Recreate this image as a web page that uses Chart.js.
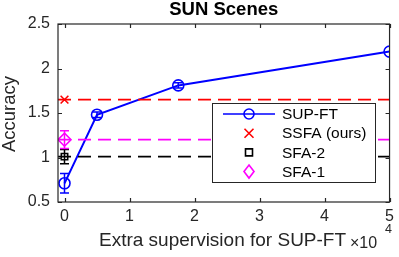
<!DOCTYPE html>
<html><head><meta charset="utf-8">
<script src="https://cdn.jsdelivr.net/npm/chart.js@4"></script>
<style>html,body{margin:0;padding:0;background:#fff}#w{width:399px;height:257px}</style>
</head><body><div id="w"><canvas id="c" width="399" height="257"></canvas></div>
<script>
const supX = [0, 0.5, 1.75, 5];
const supY = [0.71, 1.48, 1.81, 2.19];
const supErr = [0.11, 0.03, 0.03, 0.0];
const ssfaVal = 1.65, ssfaErr = 0.0;
const sfa2Val = 1.01, sfa2Err = 0.08;
const sfa1Val = 1.20, sfa1Err = 0.1;
const xTicks = [0, 1, 2, 3, 4, 5];
const yTicks = [0.5, 1, 1.5, 2, 2.5];
const xMin = -0.1, xMax = 5, yMin = 0.5, yMax = 2.5;
const FONT = 'Liberation Sans, Arial, sans-serif';

const hline = (v) => [{x: xMin, y: v}, {x: xMax, y: v}];

const errs = [
  {xs: supX, ys: supY, es: supErr, color: '#0000ff'},
  {xs: [0], ys: [ssfaVal], es: [ssfaErr], color: '#ff0000'},
  {xs: [0], ys: [sfa2Val], es: [sfa2Err], color: '#000000'},
  {xs: [0], ys: [sfa1Val], es: [sfa1Err], color: '#ff00ff'}
];

const custom = {
  id: 'custom',
  beforeDatasetsDraw(chart) {
    const ctx = chart.ctx, xs = chart.scales.x, ys = chart.scales.y;
    ctx.save();
    ctx.lineWidth = 1.5;
    errs.forEach(s => {
      ctx.strokeStyle = s.color;
      s.xs.forEach((xv, i) => {
        if (!s.es[i]) return;
        const px = xs.getPixelForValue(xv);
        const t = ys.getPixelForValue(s.ys[i] + s.es[i]);
        const b = ys.getPixelForValue(s.ys[i] - s.es[i]);
        ctx.beginPath();
        ctx.moveTo(px, t); ctx.lineTo(px, b);
        ctx.moveTo(px - 4.5, t); ctx.lineTo(px + 4.5, t);
        ctx.moveTo(px - 4.5, b); ctx.lineTo(px + 4.5, b);
        ctx.stroke();
      });
    });
    ctx.restore();
  },
  afterDraw(chart) {
    const ctx = chart.ctx, a = chart.chartArea, xs = chart.scales.x, ys = chart.scales.y;
    ctx.save();
    // box
    ctx.strokeStyle = '#262626';
    ctx.lineWidth = 1.2;
    ctx.strokeRect(a.left, a.top, a.right - a.left, a.bottom - a.top);
    // inward ticks
    ctx.beginPath();
    xTicks.forEach(v => {
      const p = Math.round(xs.getPixelForValue(v)) + 0.5;
      ctx.moveTo(p, a.bottom); ctx.lineTo(p, a.bottom - 4);
      ctx.moveTo(p, a.top); ctx.lineTo(p, a.top + 4);
    });
    yTicks.forEach(v => {
      const p = Math.round(ys.getPixelForValue(v)) + 0.5;
      ctx.moveTo(a.left, p); ctx.lineTo(a.left + 4, p);
      ctx.moveTo(a.right, p); ctx.lineTo(a.right - 4, p);
    });
    ctx.stroke();
    // title
    ctx.fillStyle = '#000';
    ctx.font = 'bold 18.5px ' + FONT;
    ctx.textAlign = 'center'; ctx.textBaseline = 'alphabetic';
    ctx.fillText('SUN Scenes', (a.left + a.right) / 2, 15);
    // y label
    ctx.fillStyle = '#262626';
    ctx.font = '18.5px ' + FONT;
    ctx.textBaseline = 'middle';
    ctx.save();
    ctx.translate(10, 114);
    ctx.rotate(-Math.PI / 2);
    ctx.fillText('Accuracy', 0, 0);
    ctx.restore();
    // x label
    ctx.font = '19px ' + FONT;
    ctx.textAlign = 'left'; ctx.textBaseline = 'alphabetic';
    ctx.fillText('Extra supervision for SUP-FT', 99, 246);
    ctx.font = '16px ' + FONT;
    ctx.fillText('\u00d710', 350, 248);
    ctx.font = '12.5px ' + FONT;
    ctx.fillText('4', 385, 233);
    // legend
    const lx = 212, ly = 103, lw = 163, lh = 79;
    ctx.fillStyle = '#fff';
    ctx.fillRect(lx, ly, lw, lh);
    ctx.strokeStyle = '#262626';
    ctx.lineWidth = 1;
    ctx.strokeRect(lx + 0.5, ly + 0.5, lw, lh);
    const rows = [
      {t: 'SUP-FT', c: '#0000ff', m: 'circle', line: true},
      {t: 'SSFA (ours)', c: '#ff0000', m: 'cross'},
      {t: 'SFA-2', c: '#000000', m: 'rect'},
      {t: 'SFA-1', c: '#ff00ff', m: 'diamond'}
    ];
    rows.forEach((r, i) => {
      const y = 114 + i * 19.2;
      ctx.strokeStyle = r.c; ctx.lineWidth = 1.6;
      if (r.line) { ctx.beginPath(); ctx.moveTo(223, y); ctx.lineTo(275, y); ctx.stroke(); }
      drawMarker(ctx, r.m, 249, y);
      ctx.fillStyle = '#000';
      ctx.font = '15.5px ' + FONT;
      ctx.textAlign = 'left'; ctx.textBaseline = 'middle';
      ctx.fillText(r.t, 282, y + 1);
    });
    ctx.restore();
  }
};

function drawMarker(ctx, m, x, y) {
  ctx.beginPath();
  if (m === 'circle') ctx.arc(x, y, 5, 0, Math.PI * 2);
  else if (m === 'cross') { ctx.moveTo(x - 4.5, y - 4.5); ctx.lineTo(x + 4.5, y + 4.5); ctx.moveTo(x + 4.5, y - 4.5); ctx.lineTo(x - 4.5, y + 4.5); }
  else if (m === 'rect') ctx.rect(x - 3.5, y - 3.5, 7, 7);
  else if (m === 'diamond') { ctx.moveTo(x, y - 6.5); ctx.lineTo(x + 5, y); ctx.lineTo(x, y + 6.5); ctx.lineTo(x - 5, y); ctx.closePath(); }
  ctx.stroke();
}

new Chart(document.getElementById('c'), {
  type: 'scatter',
  data: {
    datasets: [
      {label: 'SSFA line', data: hline(ssfaVal), showLine: true, borderColor: '#ff0000', borderWidth: 1.8, borderDash: [13, 7], pointRadius: 0},
      {label: 'SFA-2 line', data: hline(sfa2Val), showLine: true, borderColor: '#000000', borderWidth: 1.8, borderDash: [13, 7], pointRadius: 0},
      {label: 'SFA-1 line', data: hline(sfa1Val), showLine: true, borderColor: '#ff00ff', borderWidth: 1.8, borderDash: [13, 7], pointRadius: 0},
      {label: 'SUP-FT', data: supX.map((x, i) => ({x, y: supY[i]})), showLine: true, borderColor: '#0000ff', borderWidth: 2, pointStyle: 'circle', pointRadius: 5.5, pointBorderColor: '#0000ff', pointBackgroundColor: 'rgba(0,0,0,0)', pointBorderWidth: 1.6},
      {label: 'SSFA (ours)', data: [{x: 0, y: ssfaVal}], pointStyle: 'crossRot', pointRadius: 5.5, pointBorderColor: '#ff0000', pointBorderWidth: 1.6},
      {label: 'SFA-2', data: [{x: 0, y: sfa2Val}], pointStyle: 'rect', pointRadius: 4.5, pointBorderColor: '#000000', pointBackgroundColor: 'rgba(0,0,0,0)', pointBorderWidth: 1.6},
      {label: 'SFA-1', data: [{x: 0, y: sfa1Val}], pointStyle: 'rectRot', pointRadius: 6.5, pointBorderColor: '#ff00ff', pointBackgroundColor: 'rgba(0,0,0,0)', pointBorderWidth: 1.6}
    ]
  },
  options: {
    responsive: false, animation: false,
    layout: {padding: {top: 24, right: 7, left: 0, bottom: 0}},
    plugins: {legend: {display: false}, tooltip: {enabled: false}, title: {display: false}},
    scales: {
      x: {
        type: 'linear', min: xMin, max: xMax,
        afterBuildTicks: s => { s.ticks = xTicks.map(v => ({value: v})); },
        afterFit: s => { s.height = 55; },
        grid: {display: false, drawTicks: false},
        border: {display: false},
        ticks: {color: '#262626', font: {size: 16, family: FONT}, padding: 5, maxRotation: 0}
      },
      y: {
        type: 'linear', min: yMin, max: yMax,
        afterBuildTicks: s => { s.ticks = yTicks.map(v => ({value: v})); },
        afterFit: s => { s.width = 58; },
        grid: {display: false, drawTicks: false},
        border: {display: false},
        ticks: {color: '#262626', font: {size: 16, family: FONT}, padding: 8, callback: v => String(v)}
      }
    }
  },
  plugins: [custom]
});
</script>
</body></html>
